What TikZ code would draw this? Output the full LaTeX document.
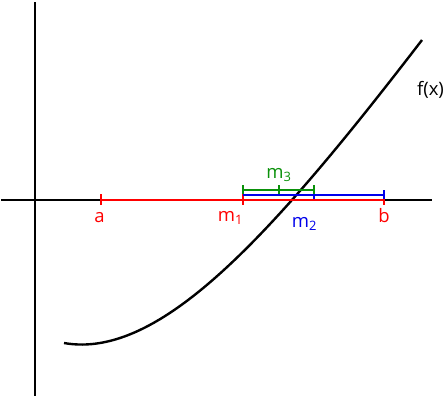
\documentclass[tikz,border=0pt]{standalone}
\usepackage{fontspec}
\setsansfont{Open Sans}
\usepackage{tikz}
\usetikzlibrary{positioning}
\definecolor{First}{RGB}{255, 0, 0}
\definecolor{Second}{RGB}{0, 0, 235}
\definecolor{Third}{RGB}{10, 145, 10}

\begin{document}
\begin{tikzpicture}[x=1pt,y=-1pt,line width=2pt,
    lbl/.style={font=\sffamily\fontsize{18.5}{22}\selectfont,inner sep=0pt,anchor=base}]
        \useasboundingbox (0,0) rectangle (446,400);
        % axes
        \coordinate (xl) at (1,200);
        \coordinate (xr) at (432,200);
        \coordinate (yt) at (35,2);
        \coordinate (yb) at (35,396);
        \draw (xl) -- (xr);
        \draw (yt) -- (yb);
        % function
        \coordinate (fs) at (64,343);
        \coordinate (fe) at (422,40);
        \draw[line width=2.4pt] (fs) .. controls (160,360) and (272,235) .. (fe);
        \node[lbl] (fx) at (430.5,95) {f(x)};
        % first interval [a,b]
        \coordinate (a) at (101,199.5);
        \coordinate (m1) at (243,199.5);
        \coordinate (b) at (384,199.5);
        \draw[First] (a) -- (b);
        \foreach \p in {a,m1,b} {
          \draw[First] ([yshift=5.5pt]\p) -- ([yshift=-5.5pt]\p);
        }
        \node[lbl,First] (la) at (99.5,222) {a};
        \node[lbl,First] (lm1) at (230.5,221) {m\textsubscript{1}};
        \node[lbl,First] (lb) at (384,222) {b};
        % second interval [m1,b]
        \coordinate (s1) at (243,194.5);
        \coordinate (m2) at (314,194.5);
        \coordinate (s2) at (384,194.5);
        \draw[Second] (s1) -- (s2);
        \foreach \p in {m2,s2} {
          \draw[Second] ([yshift=4.5pt]\p) -- ([yshift=-4.5pt]\p);
        }
        \node[lbl,Second] (lm2) at (304.5,227) {m\textsubscript{2}};
        % third interval [m1,m2]
        \coordinate (t1) at (243,189.5);
        \coordinate (m3) at (279,189.5);
        \coordinate (t2) at (314,189.5);
        \draw[Third] (t1) -- (t2);
        \foreach \p in {t1,m3,t2} {
          \draw[Third] ([yshift=4.5pt]\p) -- ([yshift=-4.5pt]\p);
        }
        \node[lbl,Third] (lm3) at (279,178) {m\textsubscript{3}};
      \end{tikzpicture}
\end{document}
